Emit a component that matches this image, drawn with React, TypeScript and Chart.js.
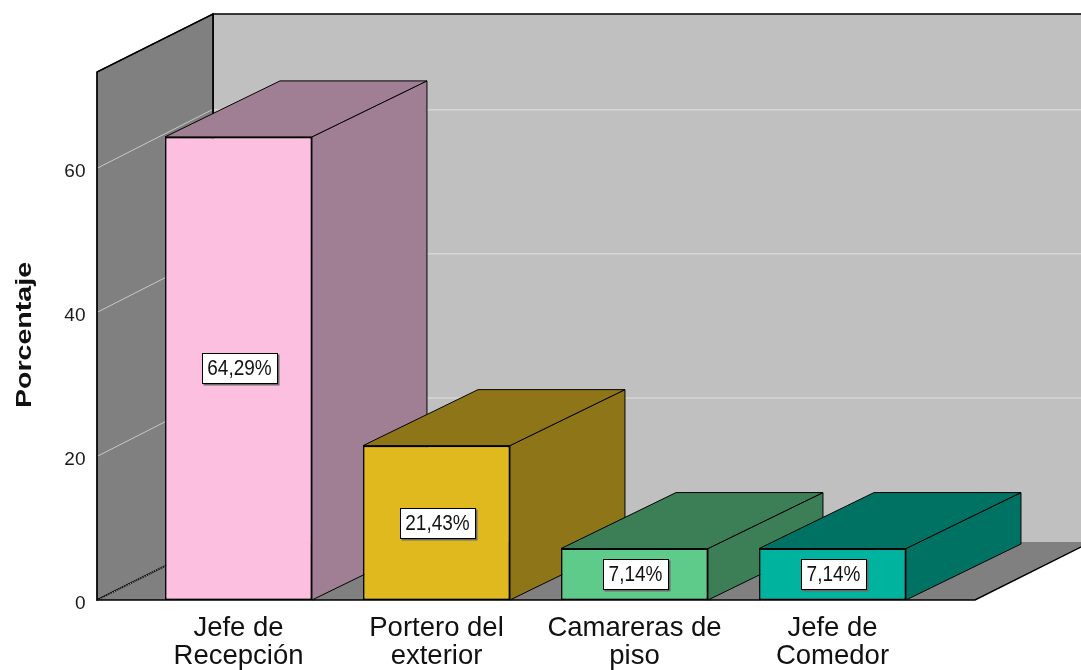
import React, { useEffect, useRef } from 'react';
import { Chart, registerables } from 'chart.js';

Chart.register(...registerables);

const categories: string[][] = [
  ['Jefe de', 'Recepción'],
  ['Portero del', 'exterior'],
  ['Camareras de', 'piso'],
  ['Jefe de', 'Comedor'],
];
const percentages: number[] = [64.29, 21.43, 7.14, 7.14];
const valueLabels: string[] = ['64,29%', '21,43%', '7,14%', '7,14%'];
const frontColors: string[] = ['#fcbfe0', '#e0b91e', '#5ecb8a', '#00b39e'];
const sideColors: string[] = ['#a07e93', '#8e7517', '#3c7f57', '#007263'];
const yTickValues: number[] = [0, 20, 40, 60];
const yMax = 73.3;
const axisTitle = 'Porcentaje';

const FONT = "'Liberation Sans', Arial, sans-serif";

function poly(ctx: CanvasRenderingContext2D, pts: number[][], fill: string | null, stroke: string | null) {
  ctx.beginPath();
  ctx.moveTo(pts[0][0], pts[0][1]);
  for (let i = 1; i < pts.length; i++) ctx.lineTo(pts[i][0], pts[i][1]);
  ctx.closePath();
  if (fill) {
    ctx.fillStyle = fill;
    ctx.fill();
  }
  if (stroke) {
    ctx.strokeStyle = stroke;
    ctx.lineWidth = 1;
    ctx.stroke();
  }
}

const box3dPlugin = {
  id: 'box3d',
  beforeDatasetsDraw(chart: any) {
    const { ctx, chartArea } = chart;
    const { left, right, top, bottom } = chartArea;
    const ys = chart.scales.y;
    const L = left - 42.5;
    const R = right + 43.5;
    const dx = 116;
    const dy = -58;
    const bdx = 115;
    const bdy = -56;
    ctx.save();
    // back wall
    ctx.fillStyle = '#c0c0c0';
    ctx.fillRect(L + dx, top + dy, chart.width - (L + dx) + 5, bottom - top);
    // floor
    poly(ctx, [[L, bottom], [R, bottom], [R + dx, bottom + dy], [L + dx, bottom + dy]], '#808080', null);
    // gridlines on back wall
    ctx.lineWidth = 1.5;
    ctx.strokeStyle = '#d6d6d6';
    yTickValues.forEach((v) => {
      if (v === 0) return;
      const py = ys.getPixelForValue(v);
      ctx.beginPath();
      ctx.moveTo(L + dx, py + dy);
      ctx.lineTo(chart.width + 5, py + dy);
      ctx.stroke();
    });
    // back wall edges
    ctx.strokeStyle = '#000';
    ctx.lineWidth = 1.5;
    ctx.beginPath();
    ctx.moveTo(L + dx, bottom + dy);
    ctx.lineTo(L + dx, top + dy);
    ctx.lineTo(chart.width + 5, top + dy);
    ctx.stroke();
    // left wall
    poly(ctx, [[L, top], [L + dx, top + dy], [L + dx, bottom + dy], [L, bottom]], '#808080', '#000');
    ctx.lineWidth = 1.5;
    ctx.strokeStyle = '#000';
    ctx.stroke();
    // gridlines on left wall
    ctx.lineWidth = 1;
    yTickValues.forEach((v) => {
      const py = ys.getPixelForValue(v);
      ctx.strokeStyle = v === 0 ? '#bdbdbd' : '#c8c8c8';
      ctx.setLineDash(v === 0 ? [1, 1] : []);
      ctx.beginPath();
      ctx.moveTo(L + 1, py);
      ctx.lineTo(L + dx - 1, py + dy);
      ctx.stroke();
    });
    ctx.setLineDash([]);
    // floor edges
    ctx.strokeStyle = '#000';
    ctx.lineWidth = 1.5;
    ctx.beginPath();
    ctx.moveTo(L, bottom);
    ctx.lineTo(R, bottom);
    ctx.lineTo(R + dx, bottom + dy);
    ctx.stroke();
    // bar tops and sides
    const meta = chart.getDatasetMeta(0);
    meta.data.forEach((bar: any, i: number) => {
      const p = bar.getProps(['x', 'y', 'base', 'width'], true);
      const l = p.x - p.width / 2;
      const r = p.x + p.width / 2;
      const ty = p.y;
      const b = p.base;
      ctx.lineJoin = 'round';
      poly(ctx, [[r, ty], [r + bdx, ty + bdy], [r + bdx, b + bdy], [r, b]], sideColors[i], '#000');
      poly(ctx, [[l, ty], [r, ty], [r + bdx, ty + bdy], [l + bdx, ty + bdy]], sideColors[i], '#000');
    });
    ctx.restore();
  },
  afterDatasetsDraw(chart: any) {
    const { ctx, chartArea } = chart;
    const meta = chart.getDatasetMeta(0);
    ctx.save();
    ctx.font = `19px ${FONT}`;
    meta.data.forEach((bar: any, i: number) => {
      const p = bar.getProps(['x', 'y', 'base'], true);
      const cx = p.x + 1;
      const cy = (p.y + p.base) / 2;
      const text = valueLabels[i];
      const tw = ctx.measureText(text).width;
      const w = Math.round(tw + 11);
      const h = 30;
      const x0 = Math.round(cx - w / 2) + 0.5;
      const y0 = Math.round(cy - h / 2) + 0.5;
      ctx.fillStyle = '#6a6a6a';
      ctx.fillRect(x0 + 1, y0 + 1, w + 1, h + 1);
      ctx.fillStyle = '#fff';
      ctx.fillRect(x0, y0, w, h);
      ctx.strokeStyle = '#000';
      ctx.lineWidth = 1;
      ctx.strokeRect(x0, y0, w, h);
      ctx.fillStyle = '#111';
      ctx.textAlign = 'center';
      ctx.textBaseline = 'middle';
      ctx.save();
      ctx.translate(cx, cy + 1);
      ctx.scale(1, 1.15);
      ctx.fillText(text, 0, 0);
      ctx.restore();
    });
    // y axis title
    ctx.save();
    ctx.translate(25, (chartArea.top + chartArea.bottom) / 2 - 1);
    ctx.rotate(-Math.PI / 2);
    ctx.scale(1.3, 1);
    ctx.font = `bold 22px ${FONT}`;
    ctx.fillStyle = '#111';
    ctx.textAlign = 'center';
    ctx.textBaseline = 'middle';
    ctx.fillText(axisTitle, 0, 0);
    ctx.restore();
    ctx.restore();
  },
};

export default function App() {
  const canvasRef = useRef<HTMLCanvasElement | null>(null);

  useEffect(() => {
    document.body.style.margin = '0';
    document.body.style.overflow = 'hidden';
    const canvas = canvasRef.current;
    if (!canvas) return;
    const chart = new Chart(canvas, {
      type: 'bar',
      data: {
        labels: categories,
        datasets: [
          {
            data: percentages,
            backgroundColor: frontColors,
            borderColor: '#000',
            borderWidth: 1.5,
            borderSkipped: false,
            barPercentage: 0.742,
            categoryPercentage: 1,
          },
        ],
      },
      options: {
        responsive: false,
        animation: false,
        devicePixelRatio: 1,
        layout: { padding: { top: 72, right: 149.5, left: 0, bottom: 0 } },
        plugins: {
          legend: { display: false },
          tooltip: { enabled: false },
          title: { display: false },
        },
        scales: {
          x: {
            offset: true,
            grid: { display: false, drawTicks: false },
            border: { display: false },
            ticks: {
              padding: 15,
              color: '#111',
              font: { family: FONT, size: 27.5, lineHeight: 1.0 },
              maxRotation: 0,
              autoSkip: false,
            },
            afterFit: (scale: any) => {
              scale.height = 70;
            },
          },
          y: {
            min: 0,
            max: yMax,
            grid: { display: false, drawTicks: false },
            border: { display: false },
            ticks: {
              padding: 54,
              labelOffset: 4,
              color: '#1a1a1a',
              font: { family: FONT, size: 19 },
            },
            afterBuildTicks: (scale: any) => {
              scale.ticks = yTickValues.map((v) => ({ value: v }));
            },
            afterFit: (scale: any) => {
              scale.width = 139.5;
            },
          },
        },
      },
      plugins: [box3dPlugin],
    });
    return () => chart.destroy();
  }, []);

  return (
    <div style={{ width: 1081, height: 670, background: '#fff' }}>
      <canvas ref={canvasRef} width={1081} height={670} style={{ display: 'block' }} />
    </div>
  );
}
